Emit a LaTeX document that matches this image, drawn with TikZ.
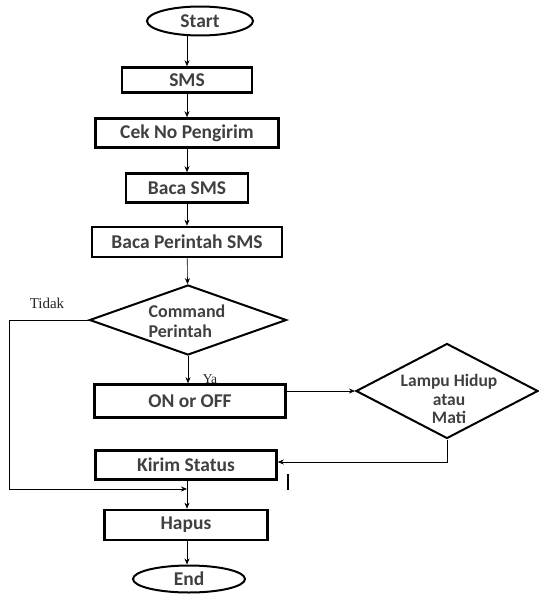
\documentclass[tikz,border=0pt]{standalone}
\usepackage{fontspec}
\setmainfont{Carlito}
\newfontfamily\serifl{Liberation Serif}
\usetikzlibrary{shapes.geometric,arrows.meta}
\begin{document}
\begin{tikzpicture}[x=1pt,y=-1pt,
  txt/.style={font=\bfseries\fontsize{19.5}{21}\selectfont,text=black!75},
  box/.style={draw,line width=2.6pt,inner sep=0pt,txt},
  term/.style={draw,ellipse,line width=2pt,inner sep=0pt,txt},
  dec/.style={draw,diamond,line width=2pt,inner sep=0pt},
  dtxt/.style={txt,inner sep=0pt},
  conn/.style={draw,line width=0.6pt,-{Stealth[length=6pt,width=5pt]}},
  lbl/.style={font=\serifl\fontsize{15}{16}\selectfont,text=black!85}]
\useasboundingbox (0,0) rectangle (538,594);
\node[term,minimum width=106pt,minimum height=29pt] (start) at (200,21) {Start};
\node[box,minimum width=130pt,minimum height=25pt] (sms) at (187,80) {SMS};
\node[box,minimum width=183pt,minimum height=29pt] (cek) at (187,133) {Cek No Pengirim};
\node[box,minimum width=122pt,minimum height=29pt] (baca) at (187,188) {Baca SMS};
\node[box,minimum width=190pt,minimum height=30pt] (bp) at (187,242) {Baca Perintah SMS};
\node[dec,minimum width=197pt,minimum height=70pt] (cmd) at (188,320) {};
\node[dtxt,align=left,font=\bfseries\fontsize{18}{19.5}\selectfont] (cmdt) at (187,321) {Command\\Perintah};
\node[box,minimum width=191pt,minimum height=33pt] (onoff) at (190,401) {ON or OFF};
\node[dec,minimum width=182pt,minimum height=95pt] (lampu) at (447,391) {};
\node[dtxt,align=center,font=\bfseries\fontsize{17.5}{18.5}\selectfont] (lampt) at (449,399) {Lampu Hidup\\atau\\Mati};
\node[box,minimum width=181pt,minimum height=29pt] (kirim) at (186,465) {Kirim Status};
\node[box,minimum width=163pt,minimum height=30pt] (hapus) at (186,525) {Hapus};
\node[term,minimum width=112pt,minimum height=27pt] (end) at (189,579) {End};
\coordinate (merge) at (187,489);
\coordinate (tl) at (9,320);
\coordinate (bl) at (9,489);
\draw[conn] (start.south -| 187,0) -- (sms.north -| 187,0);
\draw[conn] (sms) -- (cek);
\draw[conn] (cek) -- (baca);
\draw[conn] (baca) -- (bp);
\draw[conn] (bp) -- (cmd);
\draw[conn] (cmd.south) -- (cmd.south |- onoff.north);
\draw[conn] (onoff.east |- lampu.west) -- (lampu.west);
\draw[conn] (lampu.south) |- (kirim.east |- 0,462);
\draw[conn] (cmd.west) -- (tl) -- (bl) -- (merge);
\draw[conn] (kirim.south -| merge) -- (hapus.north -| merge);
\draw[conn] (hapus.south -| merge) -- (end.north -| merge);
\node[lbl] (tidak) at (47,303) {Tidak};
\node[lbl,font=\serifl\fontsize{13.5}{14}\selectfont] (ya) at (210,379) {Ya};
\draw[line width=1.2pt] (288,474) -- (288,490);
\end{tikzpicture}
\end{document}
